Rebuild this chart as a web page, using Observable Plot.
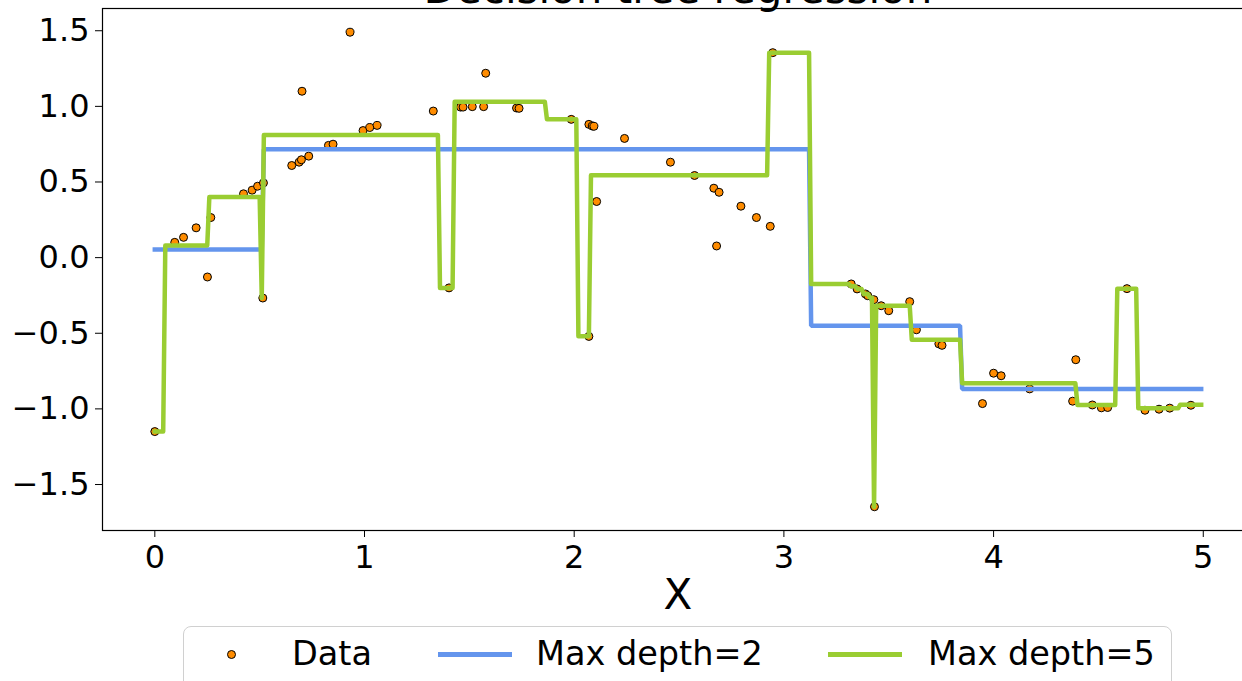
<!DOCTYPE html>
<html><head><meta charset="utf-8">
<script src="https://cdn.jsdelivr.net/npm/d3@7"></script>
<script src="https://cdn.jsdelivr.net/npm/@observablehq/plot@0.6"></script>
<style>
html,body{margin:0;padding:0;background:#fff;}
body{width:1242px;height:681px;overflow:hidden;position:relative;font-family:"DejaVu Sans",sans-serif;color:#000;}
#title{position:absolute;left:0;width:1356px;text-align:center;top:-35px;font-size:42px;margin:0;font-weight:normal;line-height:48px;white-space:nowrap;}
#chart{position:absolute;left:0;top:0;}
#legend{position:absolute;left:183px;top:626px;width:989px;height:80px;border:1.5px solid #d0d0d0;border-radius:8px;box-sizing:border-box;background:#fff;}
.lg{position:absolute;font-size:33.5px;line-height:40px;top:634px;white-space:nowrap;}
.sw{position:absolute;height:4.5px;top:652px;}
.dotsw{position:absolute;width:7px;height:7px;border-radius:50%;background:#FF8C00;border:1px solid #000;left:227px;top:650px;}
</style></head>
<body>
<div id="chart"></div>
<h2 id="title">Decision tree regression</h2>
<div id="legend"></div>
<div class="dotsw"></div>
<span class="lg" style="left:292px">Data</span>
<div class="sw" style="left:438px;width:74px;background:#6495ED"></div>
<span class="lg" style="left:536px">Max depth=2</span>
<div class="sw" style="left:828px;width:74px;background:#9ACD32"></div>
<span class="lg" style="left:928px">Max depth=5</span>
<script>
// Scatter data
const dataX = [0.0, 0.095, 0.137, 0.197, 0.251, 0.267, 0.423, 0.464, 0.49, 0.515, 0.518, 0.653, 0.688, 0.699, 0.702, 0.734, 0.828, 0.85, 0.931, 0.993, 1.025, 1.06,
  1.328, 1.403, 1.458, 1.47, 1.514, 1.568, 1.578, 1.725, 1.737, 1.986, 2.07, 2.07, 2.086, 2.094, 2.107,
  2.24, 2.459, 2.574, 2.666, 2.679, 2.691, 2.795, 2.869, 2.935, 2.947,
  3.321, 3.349, 3.389, 3.4, 3.429, 3.432, 3.464, 3.5, 3.6, 3.632, 3.739, 3.754, 3.947, 4.0, 4.036,
  4.172, 4.377, 4.392, 4.471, 4.514, 4.544, 4.636, 4.722, 4.789, 4.84, 4.941];
const dataY = [-1.15, 0.101, 0.134, 0.197, -0.128, 0.265, 0.422, 0.446, 0.472, -0.267, 0.494, 0.609, 0.631, 0.647, 1.10, 0.671, 0.742, 0.75, 1.49, 0.84, 0.86, 0.874,
  0.969, -0.2, 0.995, 0.995, 0.998, 0.998, 1.219, 0.989, 0.987, 0.914, 0.881, -0.521, 0.87, 0.868, 0.371,
  0.788, 0.631, 0.543, 0.459, 0.077, 0.432, 0.34, 0.265, 0.207, 1.355,
  -0.174, -0.207, -0.24, -0.252, -0.278, -1.647, -0.318, -0.351, -0.291, -0.477, -0.57, -0.58, -0.965, -0.764, -0.781,
  -0.868, -0.949, -0.675, -0.974, -0.993, -0.991, -0.205, -1.009, -1.002, -0.995, -0.976];

// Max depth = 2 prediction vertices
const depth2X = [0, 0.51, 0.52, 3.12, 3.13, 3.84, 3.85, 4.99];
const depth2Y = [0.053, 0.053, 0.717, 0.717, -0.45, -0.45, -0.868, -0.868];

// Max depth = 5 prediction vertices
const depth5X = [0, 0.04, 0.05, 0.25, 0.26, 0.50, 0.51, 0.52, 1.35, 1.36, 1.42, 1.43, 1.86, 1.87, 2.01, 2.02, 2.07, 2.08, 2.92, 2.93, 3.12, 3.13,
  3.31, 3.32, 3.34, 3.35, 3.37, 3.38, 3.40, 3.41, 3.42, 3.43, 3.44, 3.60, 3.61, 3.84, 3.85, 4.39, 4.40, 4.58, 4.59, 4.68, 4.69, 4.88, 4.89, 4.99];
const depth5Y = [-1.15, -1.15, 0.08, 0.08, 0.40, 0.40, -0.267, 0.81, 0.81, -0.2, -0.2, 1.03, 1.03, 0.915, 0.915, -0.52, -0.52, 0.545, 0.545, 1.355, 1.355, -0.175,
  -0.175, -0.19, -0.19, -0.207, -0.207, -0.24, -0.24, -0.265, -0.265, -1.647, -0.318, -0.318, -0.543, -0.543, -0.83, -0.83, -0.974, -0.974, -0.205, -0.205, -0.996, -0.996, -0.972, -0.972];

const xTicks = [0, 1, 2, 3, 4, 5];
const yTicks = [-1.5, -1.0, -0.5, 0.0, 0.5, 1.0, 1.5];
const xLabel = "X";

const points = dataX.map((x, i) => ({x, y: dataY[i]}));
const d2 = depth2X.map((x, i) => ({x, y: depth2Y[i]}));
const d5 = depth5X.map((x, i) => ({x, y: depth5Y[i]}));
const fmtY = d => (d < 0 ? "\u2212" : "") + Math.abs(d).toFixed(1);

const chart = Plot.plot({
  width: 1262,
  height: 620,
  marginLeft: 102,
  marginRight: 9,
  marginTop: 8,
  marginBottom: 90,
  style: {fontFamily: "DejaVu Sans", fontSize: "32px", color: "#000", background: "transparent", overflow: "visible", maxWidth: "none"},
  x: {domain: [-0.2495, 5.2395]},
  y: {domain: [-1.804, 1.647]},
  marks: [
    Plot.dot(points, {x: "x", y: "y", r: 4, fill: "#FF8C00", stroke: "#000", strokeWidth: 1}),
    Plot.line(d2, {x: "x", y: "y", stroke: "#6495ED", strokeWidth: 4.5, strokeLinejoin: "miter", strokeLinecap: "square"}),
    Plot.line(d5, {x: "x", y: "y", stroke: "#9ACD32", strokeWidth: 4.5, strokeLinejoin: "round", strokeLinecap: "square"}),
    Plot.frame({stroke: "#000", strokeWidth: 1.2}),
    Plot.axisX({ticks: xTicks, tickFormat: d => String(d), tickSize: 7, tickPadding: 8, fontSize: 32, label: null}),
    Plot.axisY({ticks: yTicks, tickFormat: fmtY, tickSize: 7, tickPadding: 6, fontSize: 32, label: null}),
    Plot.text([xLabel], {frameAnchor: "bottom", dy: 65, fontSize: 42, lineAnchor: "middle"})
  ]
});
document.getElementById("chart").appendChild(chart);
</script>
</body></html>
